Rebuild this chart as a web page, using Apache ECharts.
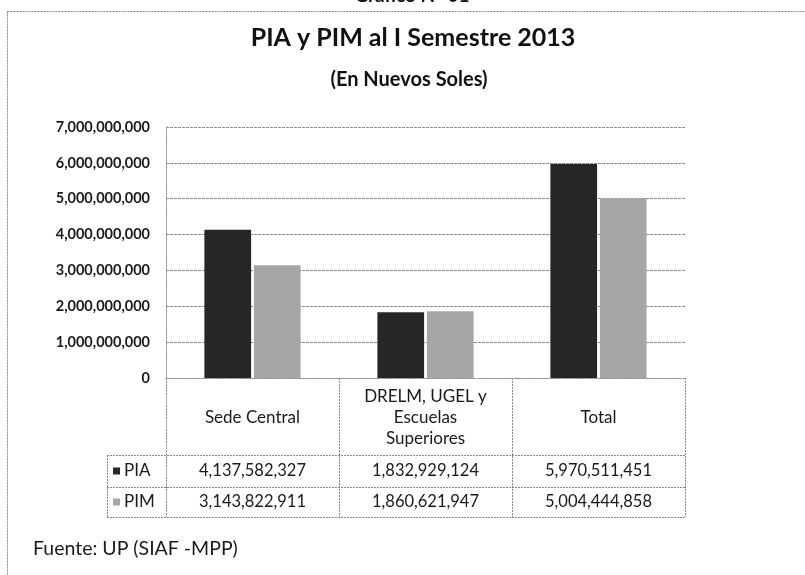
<!DOCTYPE html>
<html>
<head>
<meta charset="utf-8">
<script src="https://cdn.jsdelivr.net/npm/echarts@6/dist/echarts.min.js"></script>
<style>
html,body{margin:0;padding:0;background:#fff;}
#c{width:805px;height:575px;}
</style>
</head>
<body>
<div id="c"></div>
<script>
var categories = ['Sede Central', 'DRELM, UGEL y\nEscuelas\nSuperiores', 'Total'];
var seriesNames = ['PIA', 'PIM'];
var piaValues = [4137582327, 1832929124, 5970511451];
var pimValues = [3143822911, 1860621947, 5004444858];
var titleText = 'PIA y PIM al I Semestre 2013';
var subtitleText = '(En Nuevos Soles)';
var topText = 'Gráfico N° 01';
var sourceText = 'Fuente: UP (SIAF -MPP)';

var FONT = 'Lato';
var colors = ['#262626', '#a6a6a6'];
function fmt(v){ return Number(v).toLocaleString('en-US'); }

var chart = echarts.init(document.getElementById('c'), null, {renderer:'canvas'});
var gridTop = 127, gridBottom = 197, gridLeft = 166, gridRight = 120;
chart.setOption({
  backgroundColor: '#fff',
  animation: false,
  grid: {left: gridLeft, right: gridRight, top: gridTop, bottom: gridBottom, containLabel: false},
  xAxis: {
    type: 'category',
    data: categories,
    axisLine: {show: true, lineStyle: {color: '#999', type: [2, 1]}},
    axisTick: {show: false},
    axisLabel: {
      interval: 0, margin: 40, verticalAlign: 'middle',
      fontFamily: FONT, fontSize: 17, color: '#1a1a1a', lineHeight: 21
    }
  },
  yAxis: {
    type: 'value', min: 0, max: 7000000000, interval: 1000000000,
    axisLine: {show: true, lineStyle: {color: '#999', type: [2, 1]}},
    axisTick: {show: false},
    axisLabel: {formatter: function(v){ return fmt(v); }, fontFamily: FONT, fontWeight: 'bold', fontSize: 14.5, color: '#1a1a1a', margin: 16},
    splitLine: {show: true, lineStyle: {color: '#8a8a8a', type: [3, 1], width: 1}}
  },
  series: [
    {name: seriesNames[0], type: 'bar', data: piaValues, barWidth: '27%', barGap: '6%', itemStyle: {color: colors[0]}},
    {name: seriesNames[1], type: 'bar', data: pimValues, barWidth: '27%', barGap: '6%', itemStyle: {color: colors[1]}}
  ]
});

var x0 = chart.convertToPixel({xAxisIndex: 0}, 0);
var x1 = chart.convertToPixel({xAxisIndex: 0}, 1);
var catW = x1 - x0;
var yZero = chart.convertToPixel({yAxisIndex: 0}, 0);
var headerBottom = yZero + 77, row1Bottom = headerBottom + 32, row2Bottom = row1Bottom + 30;
var legendLeft = 107;
var tableLeft = x0 - catW / 2;
var tableRight = tableLeft + catW * categories.length;
var lineStyle = {stroke: '#8a8a8a', lineWidth: 1, lineDash: [2, 1]};
var els = [];
function hline(y, xa, xb){ els.push({type: 'line', shape: {x1: xa, y1: y + 0.5, x2: xb, y2: y + 0.5}, style: lineStyle, silent: true}); }
function vline(x, ya, yb){ els.push({type: 'line', shape: {x1: x + 0.5, y1: ya, x2: x + 0.5, y2: yb}, style: lineStyle, silent: true}); }

els.push({type: 'rect', shape: {x: 7.5, y: 11.5, width: 830, height: 620}, style: {fill: null, stroke: '#888', lineWidth: 1, lineDash: [2, 1]}, silent: true});
els.push({type: 'text', x: 412, y: 5, style: {text: topText, fontFamily: FONT, fontWeight: 'bold', fontSize: 19, fill: '#111', align: 'center', verticalAlign: 'bottom'}});
els.push({type: 'text', x: 413, y: 38, style: {text: titleText, fontFamily: FONT, fontWeight: 'bold', fontSize: 25, fill: '#111', align: 'center', verticalAlign: 'middle'}});
els.push({type: 'text', x: 409, y: 80, style: {text: subtitleText, fontFamily: FONT, fontWeight: 'bold', fontSize: 20, fill: '#111', align: 'center', verticalAlign: 'middle'}});

hline(headerBottom, legendLeft, tableRight);
hline(row1Bottom, legendLeft, tableRight);
hline(row2Bottom, legendLeft, tableRight);
vline(legendLeft, headerBottom, row2Bottom);
for (var i = 0; i <= categories.length; i++) {
  vline(tableLeft + catW * i, yZero, row2Bottom);
}
var rows = [piaValues, pimValues];
var rowMid = [(headerBottom + row1Bottom) / 2, (row1Bottom + row2Bottom) / 2];
for (var r = 0; r < rows.length; r++) {
  els.push({type: 'rect', shape: {x: 113, y: rowMid[r] - 3.5, width: 7, height: 7}, style: {fill: colors[r]}, silent: true});
  els.push({type: 'text', x: 124, y: rowMid[r], style: {text: seriesNames[r], fontFamily: FONT, fontSize: 17, fill: '#1a1a1a', align: 'left', verticalAlign: 'middle'}});
  for (var c = 0; c < categories.length; c++) {
    var cx = chart.convertToPixel({xAxisIndex: 0}, c);
    els.push({type: 'text', x: cx, y: rowMid[r], style: {text: fmt(rows[r][c]), fontFamily: FONT, fontSize: 16.5, fill: '#1a1a1a', align: 'center', verticalAlign: 'middle'}});
  }
}
els.push({type: 'text', x: 33, y: 549, style: {text: sourceText, fontFamily: FONT, fontSize: 19.5, fill: '#1a1a1a', align: 'left', verticalAlign: 'middle'}});

chart.setOption({graphic: {elements: els}});
</script>
</body>
</html>
